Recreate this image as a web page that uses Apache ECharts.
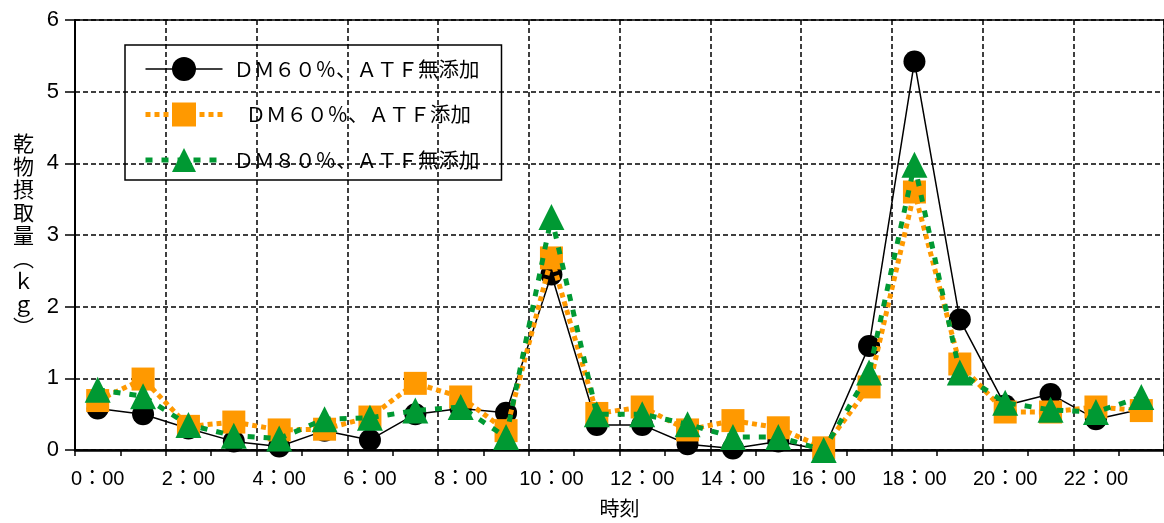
<!DOCTYPE html>
<html><head><meta charset="utf-8">
<script src="https://cdn.jsdelivr.net/npm/echarts@6/dist/echarts.min.js"></script>
<style>html,body{margin:0;padding:0;background:#fff}#c{width:1164px;height:523px}</style>
</head><body><div id="c"></div>
<script>
const hours = ['0：00','1：00','2：00','3：00','4：00','5：00','6：00','7：00','8：00','9：00','10：00','11：00','12：00','13：00','14：00','15：00','16：00','17：00','18：00','19：00','20：00','21：00','22：00','23：00'];
const dm60NoATF = [0.58,0.50,0.30,0.12,0.05,0.27,0.14,0.50,0.58,0.52,2.45,0.35,0.35,0.08,0.02,0.12,0.00,1.45,5.42,1.82,0.62,0.78,0.43,0.57];
const dm60ATF   = [0.69,0.99,0.33,0.39,0.28,0.29,0.46,0.93,0.74,0.27,2.68,0.51,0.60,0.28,0.41,0.31,0.03,0.88,3.60,1.20,0.53,0.53,0.60,0.55];
const dm80NoATF = [0.84,0.75,0.35,0.20,0.16,0.43,0.45,0.55,0.60,0.18,3.25,0.50,0.50,0.36,0.18,0.18,0.00,1.08,3.98,1.08,0.66,0.56,0.53,0.74];
const seriesNames = ['ＤＭ６０％、ＡＴＦ無添加','ＤＭ６０％、ＡＴＦ添加','ＤＭ８０％、ＡＴＦ無添加'];
const yTitle = '乾物摂取量︵ｋｇ︶';
const xTitle = '時刻';

const chart = echarts.init(document.getElementById('c'), null, {renderer:'canvas'});
const latin = 'Liberation Sans, Noto Sans CJK JP, sans-serif';
const cjk = 'Noto Sans CJK JP, sans-serif';
chart.setOption({
  animation:false,
  backgroundColor:'#fff',
  grid:{left:75, top:20, width:1099, height:435, show:true, borderColor:'#000', borderWidth:1.5, backgroundColor:'transparent'},
  legend:{
    orient:'vertical', left:125, top:45,
    padding:[12,22,8,18], itemGap:21.5, itemWidth:77, itemHeight:30,
    borderColor:'#000', borderWidth:1.5,
    lineStyle:{width:'inherit'},
    textStyle:{fontFamily:cjk, fontSize:20.5, color:'#000', padding:[0,0,0,6], rich:{i:{width:12}}},
    formatter: n => n === seriesNames[1] ? '{i|}' + n : n,
    data:seriesNames
  },
  xAxis:{
    type:'category', data:hours, boundaryGap:true,
    name:xTitle, nameLocation:'middle', nameGap:48,
    nameTextStyle:{fontFamily:cjk, fontSize:20, color:'#000'},
    axisLine:{lineStyle:{color:'#000', width:2.5}},
    axisTick:{show:true, interval:0, length:6, lineStyle:{color:'#000', width:1.5}},
    axisLabel:{interval:1, margin:19, fontFamily:latin, fontSize:20, color:'#000'},
    splitLine:{show:true, interval:1, lineStyle:{color:'#000', width:1.5, type:[5,3]}}
  },
  yAxis:{
    type:'value', min:0, max:6, interval:1,
    name:yTitle.split('').join('\n'), nameLocation:'middle', nameGap:41, nameRotate:0,
    nameTextStyle:{fontFamily:cjk, fontSize:21, color:'#000', lineHeight:23, padding:[8,0,0,0]},
    axisLine:{show:true, lineStyle:{color:'#000', width:2}},
    axisTick:{show:true, length:10, lineStyle:{color:'#000', width:1.5}},
    axisLabel:{margin:16, fontFamily:latin, fontSize:22, color:'#000'},
    splitLine:{show:true, lineStyle:{color:'#000', width:1.5, type:[5,3]}}
  },
  series:[
    {name:seriesNames[0], type:'line', data:dm60NoATF, z:2,
     symbol:'circle', symbolSize:22, color:'#000',
     itemStyle:{color:'#000'}, lineStyle:{color:'#000', width:1.5}},
    {name:seriesNames[1], type:'line', data:dm60ATF, z:3,
     symbol:'rect', symbolSize:23, color:'#FF9900',
     itemStyle:{color:'#FF9900'}, lineStyle:{color:'#FF9900', width:5, type:[5,4]}},
    {name:seriesNames[2], type:'line', data:dm80NoATF, z:4,
     symbol:'triangle', symbolSize:26, color:'#009933',
     itemStyle:{color:'#009933'}, lineStyle:{color:'#009933', width:5, type:[7,9]}}
  ]
});
</script></body></html>
